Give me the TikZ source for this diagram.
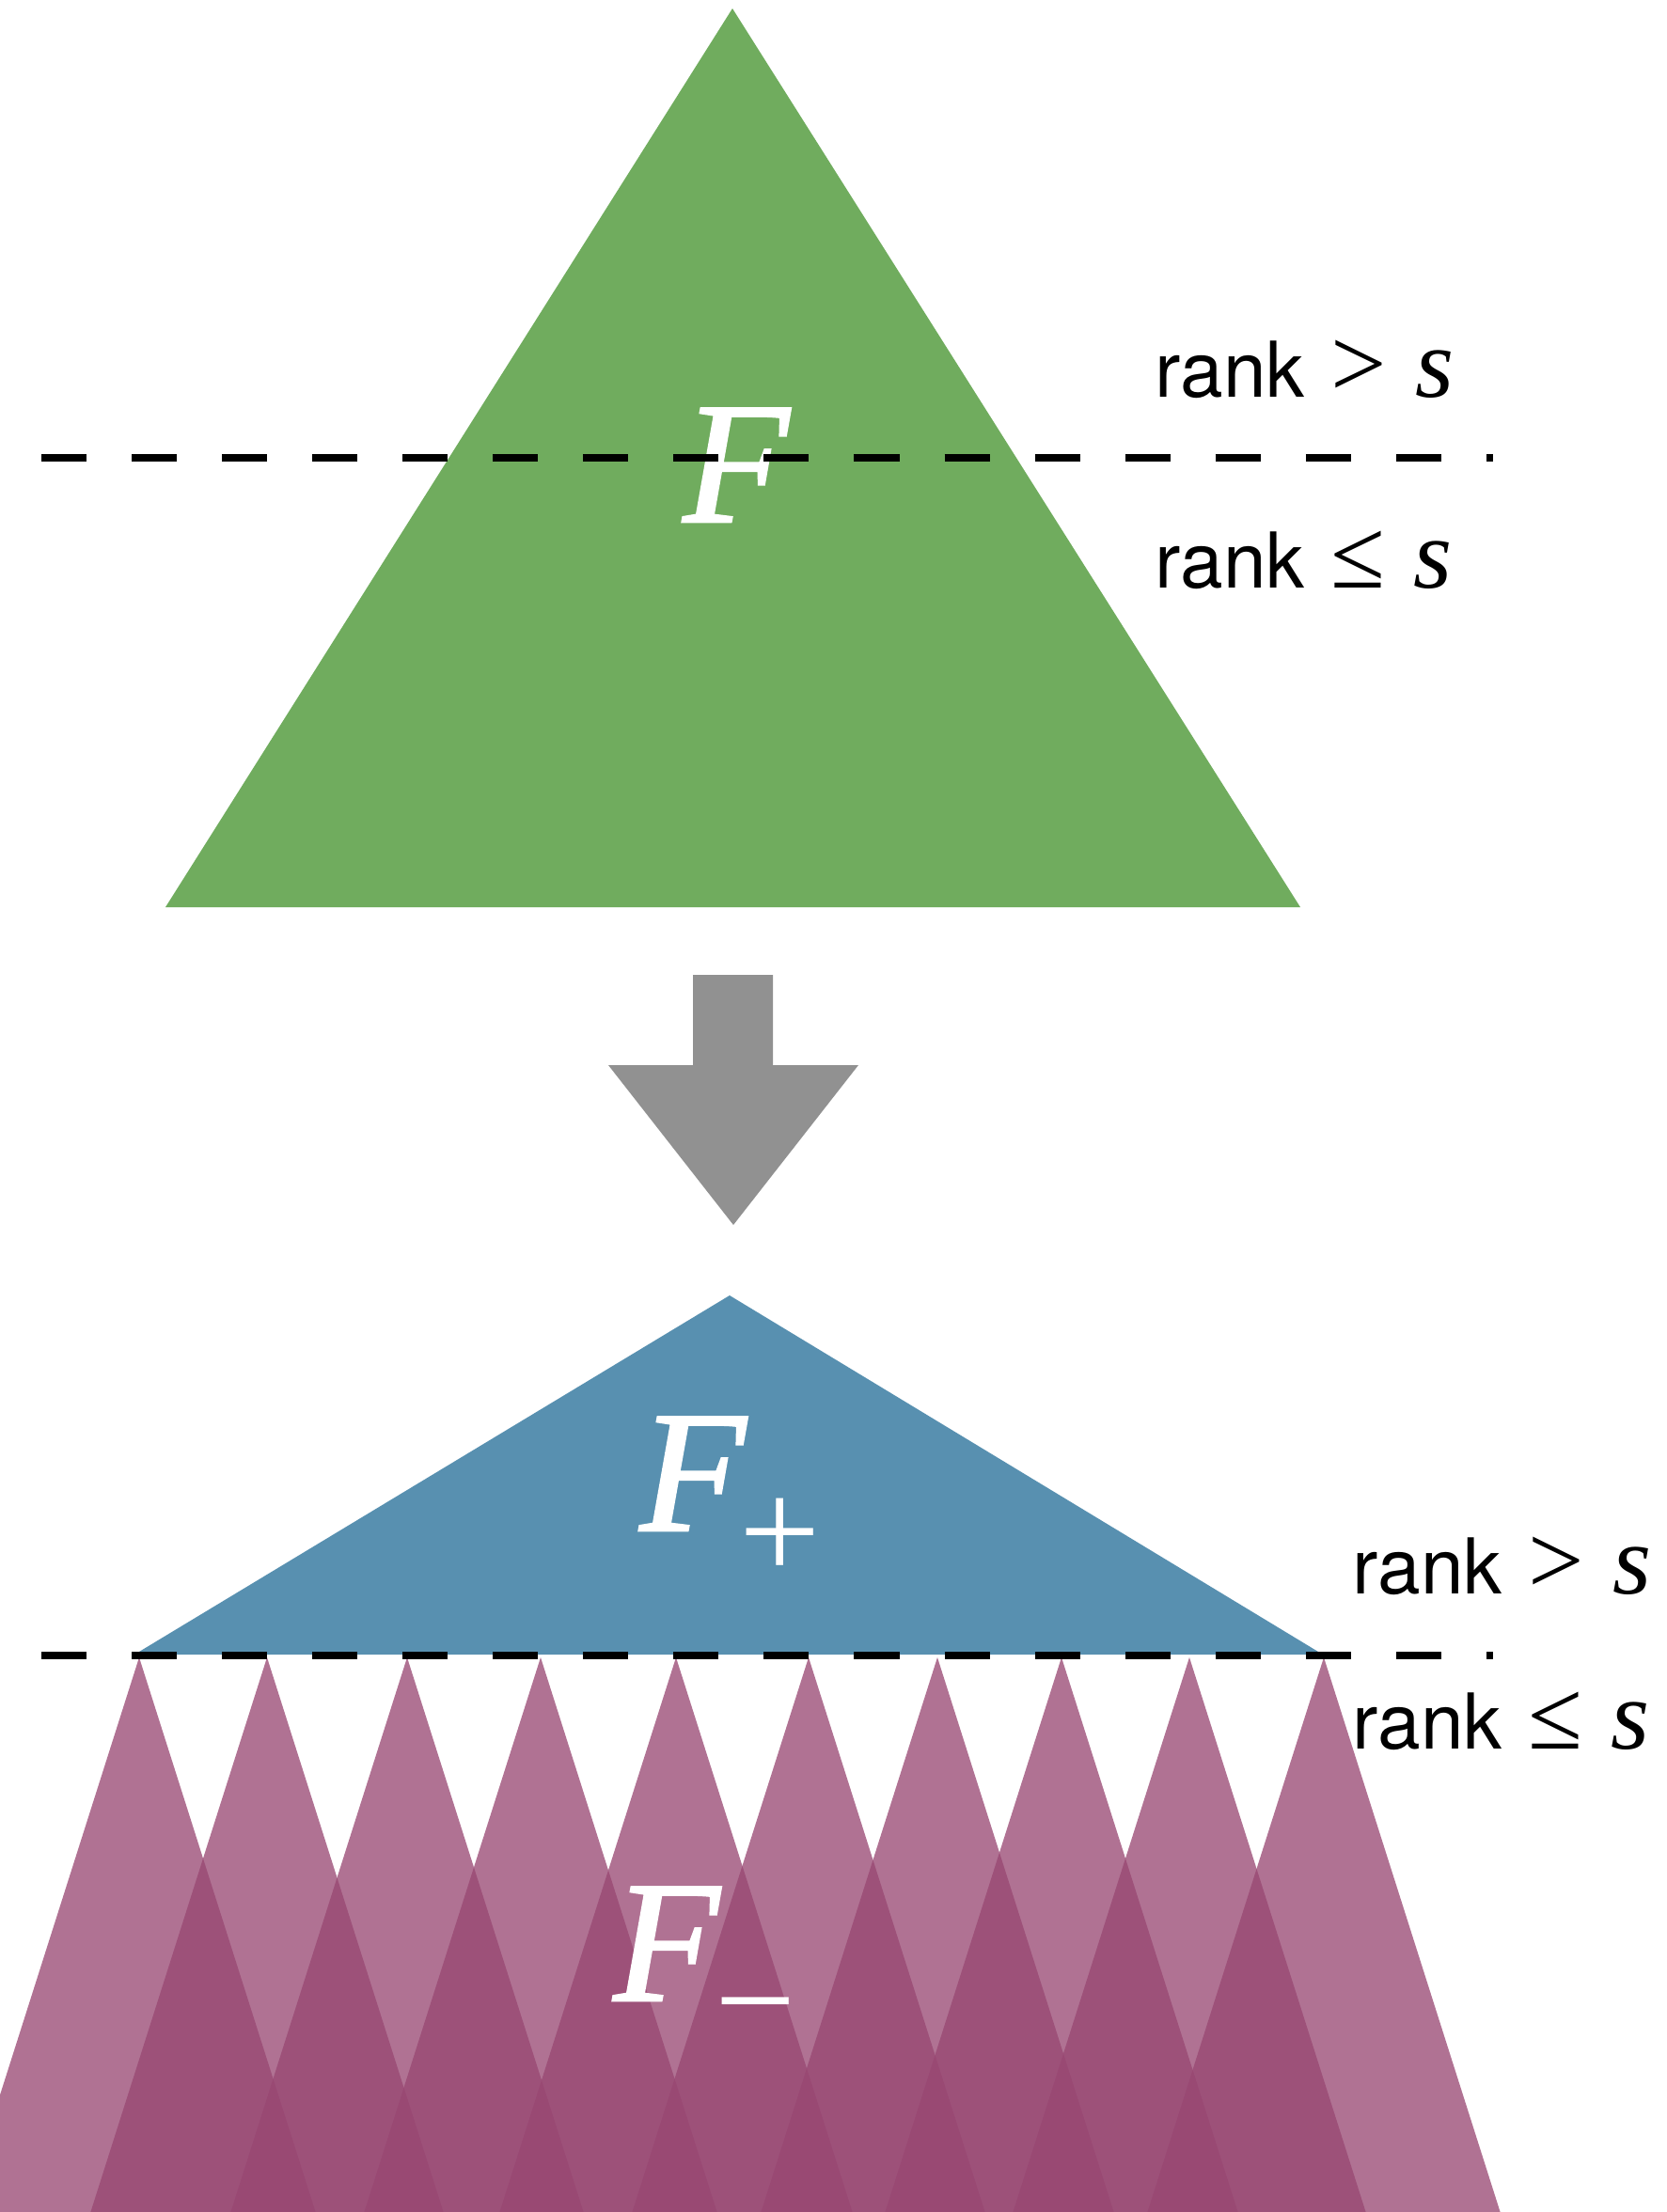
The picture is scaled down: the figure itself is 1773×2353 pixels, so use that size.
\documentclass[tikz,border=0pt]{standalone}
\usepackage{fontspec}
\newfontfamily\heros{TeX Gyre Heros}
\newfontfamily\tms{Liberation Serif}
\newfontfamily\tmsbig[FakeBold=1.4]{Liberation Serif}
\definecolor{fgreen}{RGB}{112,172,94}
\definecolor{fblue}{RGB}{88,144,176}
\definecolor{fgray}{RGB}{145,145,145}
\definecolor{fpurple}{RGB}{151,70,113}
\newcommand\rklabel[1]{{\heros\fontsize{23.3}{28}\selectfont rank}\hspace{7.8pt}{\tms\fontsize{30}{36}\selectfont #1\hspace{8.8pt}\itshape s}}
\begin{document}
\begin{tikzpicture}[x=0.01cm,y=-0.01cm,
  rankline/.style={line width=2.28pt, dash pattern=on 13.657pt off 13.657pt},
  lbl/.style={anchor=base west, inner sep=0pt, text=black},
  bigF/.style={anchor=base west, inner sep=0pt, text=white, font=\tmsbig\itshape\fontsize{52.4}{60}\selectfont},
  subsym/.style={anchor=base west, inner sep=0pt, text=white, font=\tms\fontsize{43.5}{50}\selectfont},
  leaf/.style={fill=fpurple, fill opacity=0.76}]
\useasboundingbox (0,0) rectangle (1773,2353);
% top: F
\fill[fgreen] (779,9) -- (176,965) -- (1383,965) -- cycle;
\node[bigF] (Ftop) at (726,555) {F};
\draw[rankline] (44,487) -- (1588,487);
\node[lbl] (gtA) at (1228,422) {\rklabel{>}};
\node[lbl] (leA) at (1228,625) {\rklabel{≤}};
% arrow
\fill[fgray] (737,1037) -- (822,1037) -- (822,1133) -- (913,1133) -- (780,1303) -- (647,1133) -- (737,1133) -- cycle;
% F+
\fill[fblue] (776,1378) -- (143,1760) -- (1407,1760) -- cycle;
\node[bigF] (Fplus) at (680,1628) {F};
\node[subsym] (plus) at (786,1680) {+};
% F-
\begin{scope}
\clip (0,0) rectangle (1773,2353);
\foreach \a in {148,284,433,575,719,860,997,1129,1265,1408}
  \fill[leaf] (\a,1763) -- (\a-187.6,2353) -- (\a+187.6,2353) -- cycle;
\end{scope}
\node[bigF] (Fminus) at (652,2128) {F};
\node[subsym] (minus) at (760,2179) {−};
\draw[rankline] (44,1761) -- (1588,1761);
\node[lbl] (gtB) at (1438,1695) {\rklabel{>}};
\node[lbl] (leB) at (1438,1860) {\rklabel{≤}};
\end{tikzpicture}
\end{document}
